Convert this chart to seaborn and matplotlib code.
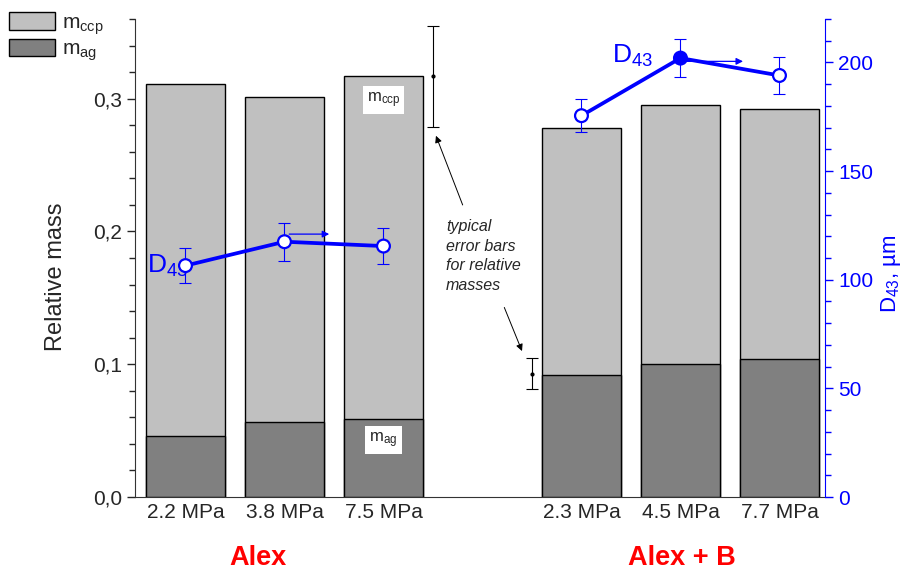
import numpy as np
import pandas as pd
import seaborn as sns
from matplotlib import pyplot as plt
from matplotlib.patches import Patch
from matplotlib.ticker import MultipleLocator, FuncFormatter
import matplotlib.transforms as mtransforms

# data
positions = [0, 1, 2, 4, 5, 6]
pressures = ['2.2 MPa', '3.8 MPa', '7.5 MPa', '2.3 MPa', '4.5 MPa', '7.7 MPa']
groups = ['Alex', 'Alex', 'Alex', 'Alex + B', 'Alex + B', 'Alex + B']
m_total = [0.311, 0.301, 0.317, 0.278, 0.295, 0.292]
m_ag = [0.046, 0.0565, 0.059, 0.092, 0.100, 0.104]
d43 = [106.5, 117.5, 115.5, 175.5, 202.0, 194.0]
d43_err = [8.2, 8.7, 8.2, 7.5, 8.7, 8.5]
d43_filled = [False, False, False, False, True, False]
typ_x = [2.5, 3.5]
typ_y = [0.317, 0.093]
typ_err = [0.038, 0.012]

df = pd.DataFrame({'pos': positions, 'label': pressures, 'group': groups,
                   'total': m_total, 'ag': m_ag, 'd43': d43, 'err': d43_err})

sns.set_style('ticks')
plt.rcParams['font.family'] = ['Liberation Sans', 'DejaVu Sans']
plt.rcParams['mathtext.fontset'] = 'custom'
plt.rcParams['mathtext.rm'] = 'Liberation Sans'
plt.rcParams['mathtext.default'] = 'regular'

fig = plt.figure(figsize=(9.06, 5.70), dpi=100)
ax = fig.add_axes([0.149, 0.128, 0.7616, 0.8387])

light = '#c0c0c0'
dark = '#808080'
sns.barplot(data=df, x='pos', y='total', native_scale=True, width=0.79,
            color=light, saturation=1, edgecolor='black', linewidth=1, ax=ax)
sns.barplot(data=df, x='pos', y='ag', native_scale=True, width=0.79,
            color=dark, saturation=1, edgecolor='black', linewidth=1, ax=ax)

ax.set_xlim(-0.51, 6.46)
ax.set_ylim(0, 0.36)
ax.yaxis.set_major_locator(MultipleLocator(0.1))
ax.yaxis.set_minor_locator(MultipleLocator(0.02))
ax.yaxis.set_major_formatter(FuncFormatter(lambda v, p: f'{v:.1f}'.replace('.', ',')))
ax.set_xticks(positions)
ax.set_xticklabels(pressures, fontsize=15)
ax.tick_params(axis='x', length=0, pad=4)
ax.tick_params(axis='y', which='major', labelsize=15, length=6, width=1)
ax.tick_params(axis='y', which='minor', length=4, width=1)
ax.set_xlabel('')
ax.set_ylabel('Relative mass', fontsize=17)
ax.yaxis.set_label_coords(-0.099, 0.46)
for s in ['top', 'right']:
    ax.spines[s].set_visible(False)
ax.spines['left'].set_color('#333333')
ax.spines['bottom'].set_color('#333333')

# typical error bars for relative mass
ax.errorbar(typ_x, typ_y, yerr=typ_err, fmt='o', color='black', ms=2,
            elinewidth=0.8, capsize=4, capthick=0.8)
ax.text(2.63, 0.1816, 'typical\nerror bars\nfor relative\nmasses', style='italic',
        fontsize=11.5, ha='left', va='center', linespacing=1.37)
ax.annotate('', xy=(2.52, 0.274), xytext=(2.81, 0.218),
            arrowprops=dict(arrowstyle='-|>', color='black', lw=0.7))
ax.annotate('', xy=(3.41, 0.108), xytext=(3.21, 0.1447),
            arrowprops=dict(arrowstyle='-|>', color='black', lw=0.7))

# labels inside bar 3
ax.text(2, 0.299, r'm$_{ccp}$', fontsize=12, ha='center', va='center',
        bbox=dict(facecolor='white', edgecolor='none', pad=3))
ax.text(2, 0.043, r'm$_{ag}$', fontsize=12, ha='center', va='center',
        bbox=dict(facecolor='white', edgecolor='none', pad=3))

# D43 on secondary axis
blue = '#0000ff'
ax2 = ax.twinx()
sns.lineplot(data=df, x='pos', y='d43', hue='group', palette=[blue, blue],
             linewidth=2.7, legend=False, ax=ax2)
ax2.errorbar(df['pos'], df['d43'], yerr=df['err'], fmt='none', ecolor=blue,
             elinewidth=0.8, capsize=4, capthick=0.8)
faces = ['blue' if f else 'white' for f in d43_filled]
ax2.scatter(df['pos'], df['d43'], s=85, facecolors=faces, edgecolors=blue,
            linewidths=1.6, zorder=5)
ax2.annotate('', xy=(1.48, 121), xytext=(1.02, 121),
             arrowprops=dict(arrowstyle='-|>', color=blue, lw=0.9))
ax2.annotate('', xy=(5.66, 200.5), xytext=(5.02, 200.5),
             arrowprops=dict(arrowstyle='-|>', color=blue, lw=0.9))
ax2.text(-0.39, 103, r'D$_{43}$', fontsize=19, color=blue, ha='left', va='baseline')
ax2.text(4.31, 200, r'D$_{43}$', fontsize=19, color=blue, ha='left', va='baseline')

ax2.set_xlim(-0.51, 6.46)
ax2.set_ylim(0, 220)
ax2.yaxis.set_major_locator(MultipleLocator(50))
ax2.yaxis.set_minor_locator(MultipleLocator(10))
ax2.tick_params(axis='y', which='major', colors=blue, labelsize=15, length=6, width=1)
ax2.tick_params(axis='y', which='minor', colors=blue, length=4, width=1)
ax2.set_ylabel(r'D$_{43}$, µm', color=blue, fontsize=16)
ax2.yaxis.set_label_coords(1.078, 0.467)
for s in ['top', 'left', 'bottom']:
    ax2.spines[s].set_visible(False)
ax2.spines['right'].set_color(blue)
ax2.set_xlabel('')

# group labels
trans = mtransforms.blended_transform_factory(ax.transData, fig.transFigure)
ax.text(0.73, 0.009, 'Alex', color='#ff0000', fontsize=19.5, fontweight='bold',
        ha='center', va='baseline', transform=trans)
ax.text(5.01, 0.009, 'Alex + B', color='#ff0000', fontsize=19.5, fontweight='bold',
        ha='center', va='baseline', transform=trans)

fig.legend(handles=[Patch(facecolor=light, edgecolor='black', label=r'm$_{ccp}$'),
                    Patch(facecolor=dark, edgecolor='black', label=r'm$_{ag}$')],
           loc='upper left', bbox_to_anchor=(-0.004, 1.0), frameon=False,
           fontsize=15, handlelength=2.2, handleheight=0.9, labelspacing=0.1,
           handletextpad=0.35, borderaxespad=0.2)

fig.savefig('out.png', dpi=100)
